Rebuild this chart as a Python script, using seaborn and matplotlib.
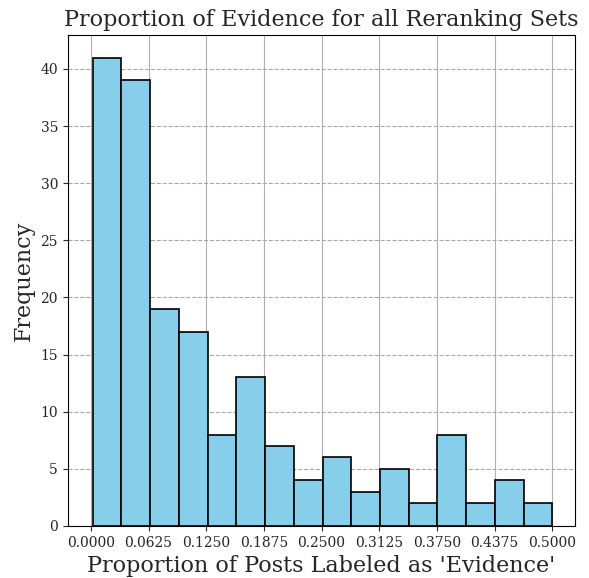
import numpy as np
import pandas as pd
import matplotlib
matplotlib.use("Agg")
import matplotlib.pyplot as plt
import seaborn as sns

# Histogram counts (16 bins between the data min and max)
bin_low = 0.002
bin_high = 0.5
counts = [41, 39, 19, 17, 8, 13, 7, 4, 6, 3, 5, 2, 8, 2, 4, 2]
x_ticks = [0.0, 0.0625, 0.125, 0.1875, 0.25, 0.3125, 0.375, 0.4375, 0.5]
y_ticks = [0, 5, 10, 15, 20, 25, 30, 35, 40]

edges = np.linspace(bin_low, bin_high, len(counts) + 1)
df = pd.DataFrame({"mid": (edges[:-1] + edges[1:]) / 2, "count": counts})

sns.set_style("ticks")
plt.rcParams["font.family"] = ["DejaVu Serif"]

fig, ax = plt.subplots(figsize=(5.89, 5.78), dpi=100)
ax.set_axisbelow(True)
sns.histplot(data=df, x="mid", weights="count", bins=edges.tolist(), color="#87CEEB",
             edgecolor="black", linewidth=1.2, alpha=1, ax=ax)

ax.xaxis.grid(True, color="#b0b0b0", linestyle="-", linewidth=0.8)
ax.yaxis.grid(True, color="#a8a8a8", linestyle="--", linewidth=0.8)

ax.set_xticks(x_ticks)
ax.set_xticklabels([f"{t:.4f}" for t in x_ticks], fontsize=10)
ax.set_yticks(y_ticks)
ax.set_yticklabels([str(t) for t in y_ticks], fontsize=10)
ax.set_xlim(-0.025, 0.525)
ax.set_ylim(0, 43)

for s in ax.spines.values():
    s.set_visible(True)
    s.set_color("black")

ax.set_title("Proportion of Evidence for all Reranking Sets", fontsize=16)
ax.set_xlabel("Proportion of Posts Labeled as 'Evidence'", fontsize=16)
ax.set_ylabel("Frequency", fontsize=16)

plt.subplots_adjust(left=0.115, right=0.977, top=0.94, bottom=0.09)
plt.savefig("out.png", dpi=100)
